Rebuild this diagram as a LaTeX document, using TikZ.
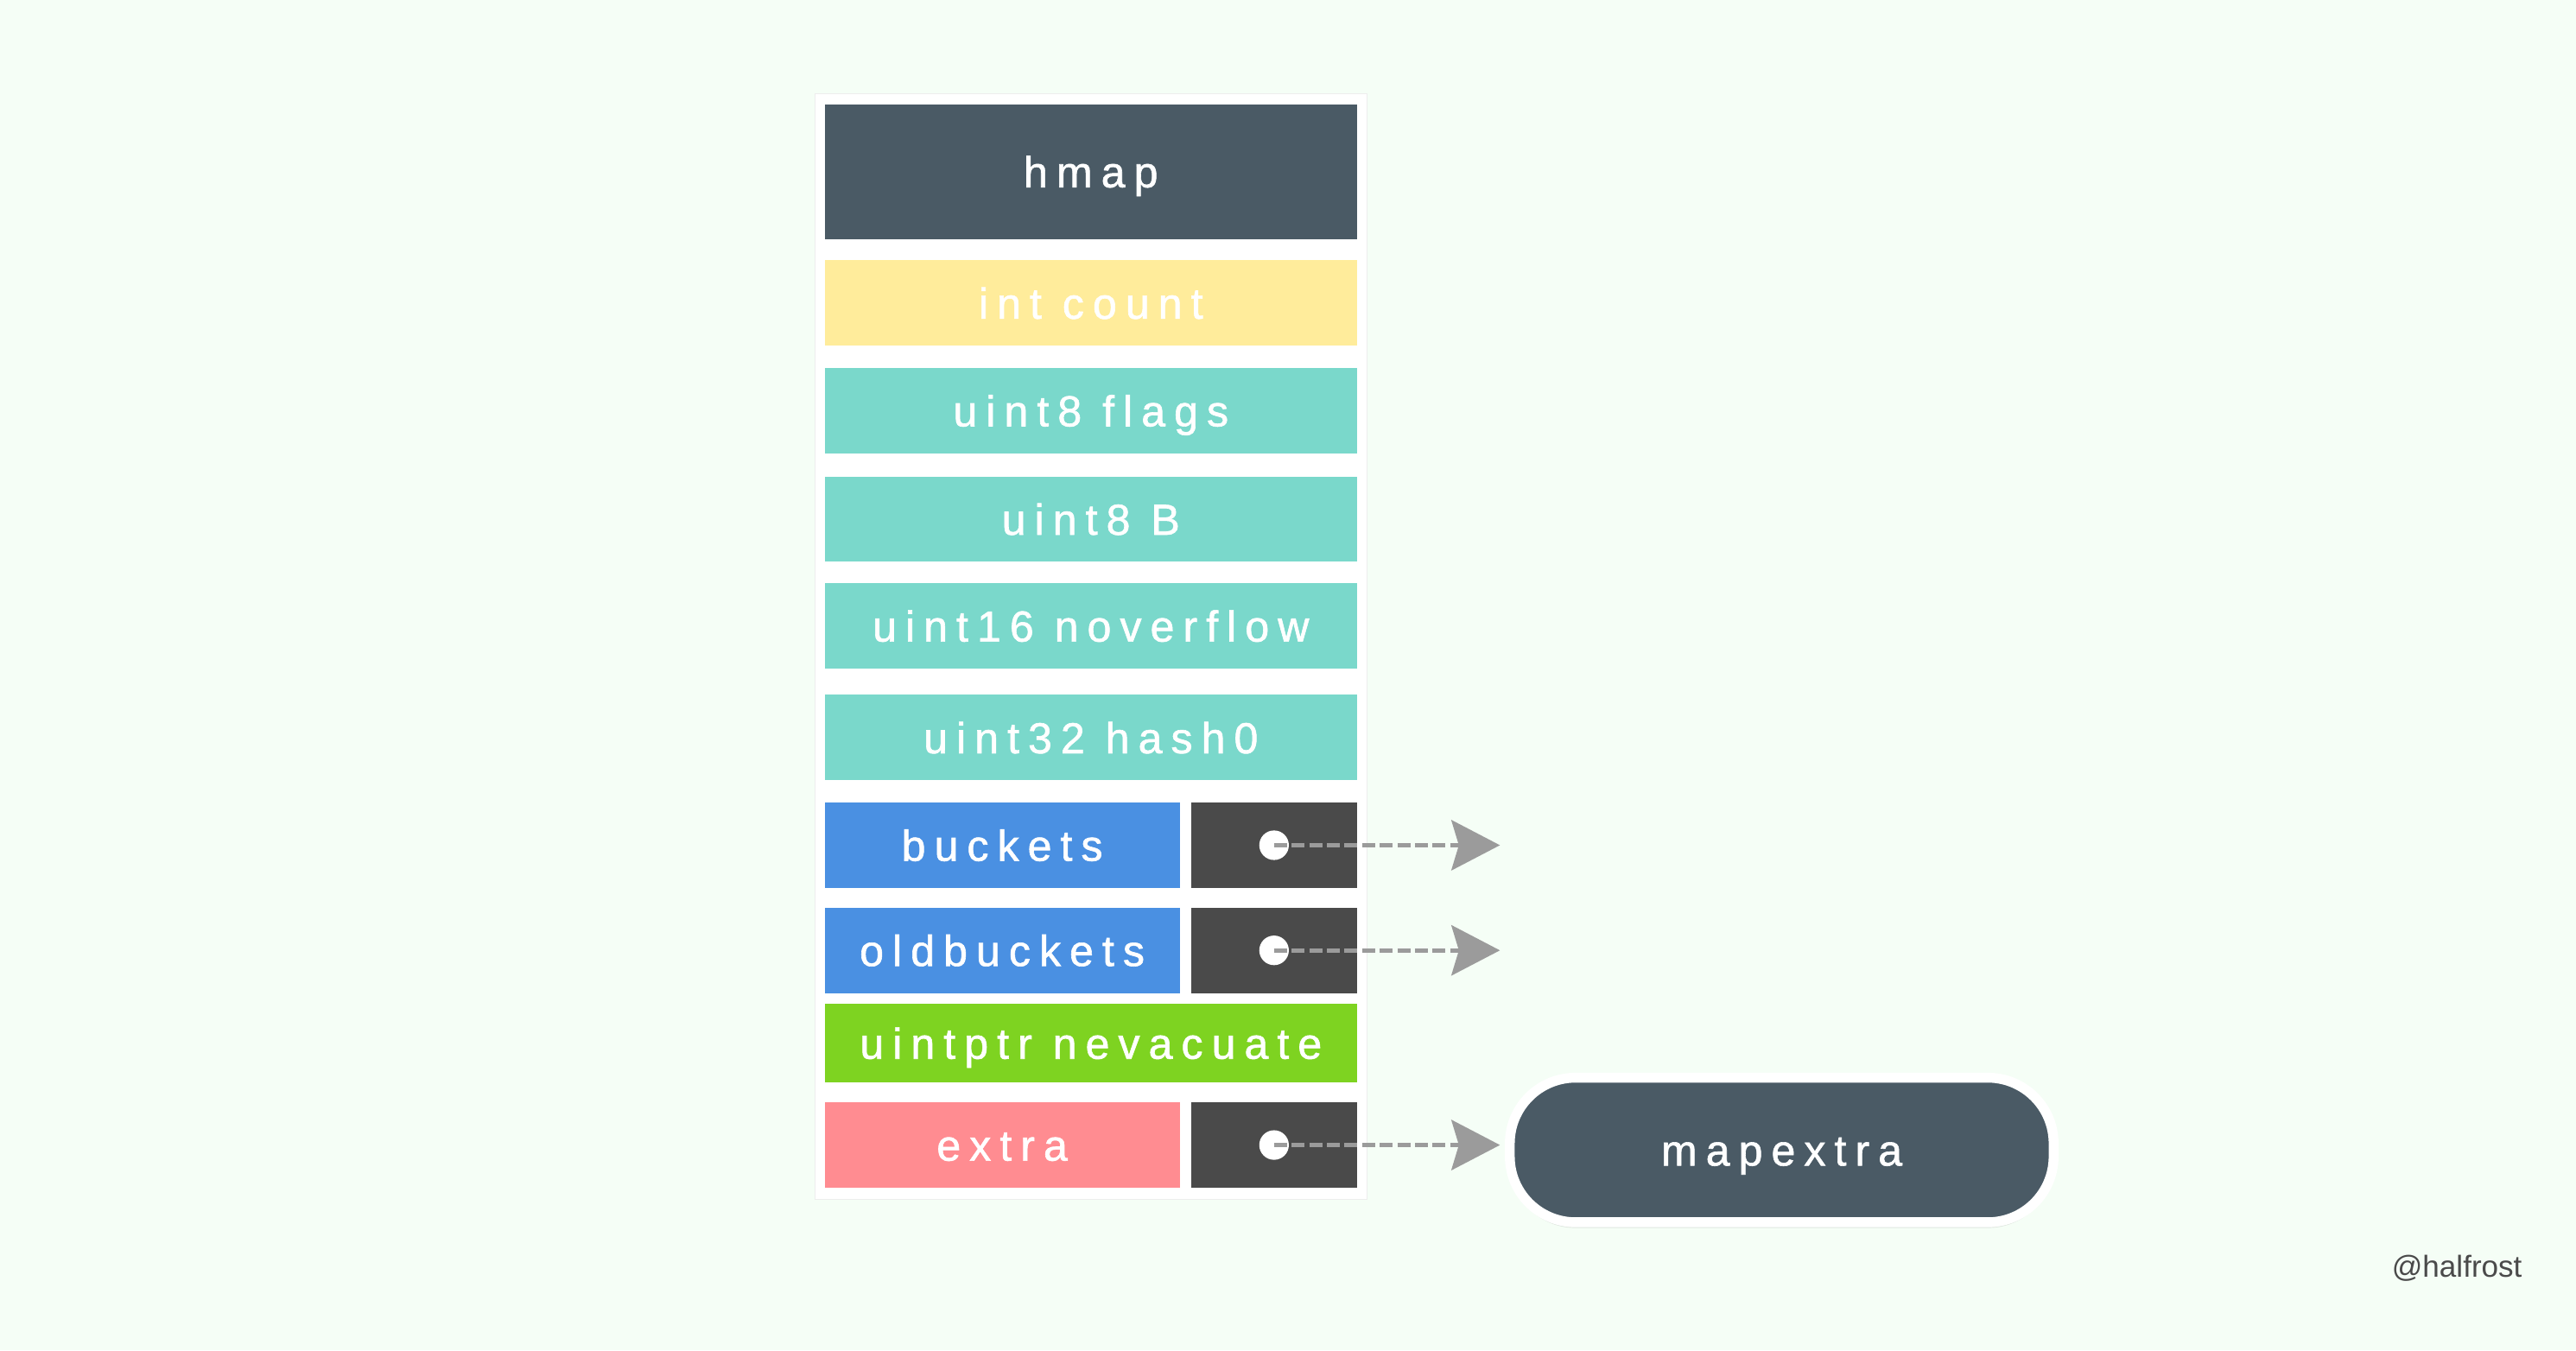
\documentclass[tikz,border=0pt]{standalone}
\usepackage{fontspec}
\setmainfont{Liberation Sans}
\newfontfamily\fieldfont[LetterSpace=20,FakeBold=1.2]{Liberation Sans}
\usetikzlibrary{arrows.meta,shadows}
\definecolor{bgmint}{HTML}{F5FEF6}
\definecolor{slate}{HTML}{4A5A65}
\definecolor{butter}{HTML}{FFEC9B}
\definecolor{teal}{HTML}{7AD8CB}
\definecolor{sky}{HTML}{4A90E2}
\definecolor{ink}{HTML}{4A4A4A}
\definecolor{lime}{HTML}{7ED321}
\definecolor{coral}{HTML}{FF8C91}
\definecolor{arrowgray}{HTML}{9B9B9B}
\begin{document}
\begin{tikzpicture}[
		field/.style={fill=#1, inner sep=0pt, text=white, text height=10.8pt, text depth=0pt,
			font=\fieldfont\fontsize{15}{18}\selectfont},
		full/.style={field=#1, minimum width=6.48cm, minimum height=1.04cm},
		half/.style={field=#1, minimum width=4.32cm, minimum height=1.04cm},
		ptr/.style={field=ink, minimum width=2.02cm, minimum height=1.04cm},
		ptrdot/.style={circle, fill=white, inner sep=0pt, minimum size=0.36cm},
		ptrline/.style={draw=arrowgray, line width=1.5pt, dash pattern=on 4.5pt off 1.6pt,
			-{Stealth[length=0.59cm, width=0.61cm, inset=0.09cm, fill=arrowgray]}},
		mapbox/.style={field=slate, draw=white, line width=0.12cm, rounded corners=0.8cm,
			minimum width=6.62cm, minimum height=1.76cm,
			drop shadow={opacity=0.18, shadow xshift=0cm, shadow yshift=-0.07cm}}
	]
	\useasboundingbox (0,0) rectangle (31.36,16.44);
	\fill[bgmint] (0,0) rectangle (31.36,16.44);
	\filldraw[fill=white, draw=black!7] (9.92,1.84) rectangle (16.64,15.30);
	
	\node[full=slate, minimum height=1.64cm] (hmap) at (13.28,14.35) {hmap};
	\node[full=butter] (count) at (13.28,12.75) {int count};
	\node[full=teal] (flags) at (13.28,11.44) {uint8 flags};
	\node[full=teal] (bits) at (13.28,10.12) {uint8 B};
	\node[full=teal] (noverflow) at (13.28,8.82) {uint16 noverflow};
	\node[full=teal] (hash) at (13.28,7.46) {uint32 hash0};
	\node[half=sky] (buckets) at (12.20,6.15) {buckets};
	\node[ptr] (bptr) at (15.51,6.15) {};
	\node[half=sky] (oldbuckets) at (12.20,4.87) {oldbuckets};
	\node[ptr] (optr) at (15.51,4.87) {};
	\node[full=lime, minimum height=0.96cm] (nevacuate) at (13.28,3.74) {uintptr nevacuate};
	\node[half=coral] (extra) at (12.20,2.50) {extra};
	\node[ptr] (eptr) at (15.51,2.50) {};
	
	\node[mapbox] (mapx) at (21.69,2.44) {mapextra};
	\node[text=ink, font=\fontsize{10.5}{12}\selectfont] (sig) at (29.91,1.00) {@halfrost};
	
	\node[ptrdot] (bdot) at (bptr.center) {};
	\node[ptrdot] (odot) at (optr.center) {};
	\node[ptrdot] (edot) at (eptr.center) {};
	\coordinate (bend) at (18.26,6.15);
	\coordinate (oend) at (18.26,4.87);
	
	\draw[ptrline] (bdot.center) -- (bend);
	\draw[ptrline] (odot.center) -- (oend);
	\draw[ptrline, shorten >=0.06cm] (edot.center) -- (edot.center -| mapx.west);
	
\end{tikzpicture}
\end{document}
